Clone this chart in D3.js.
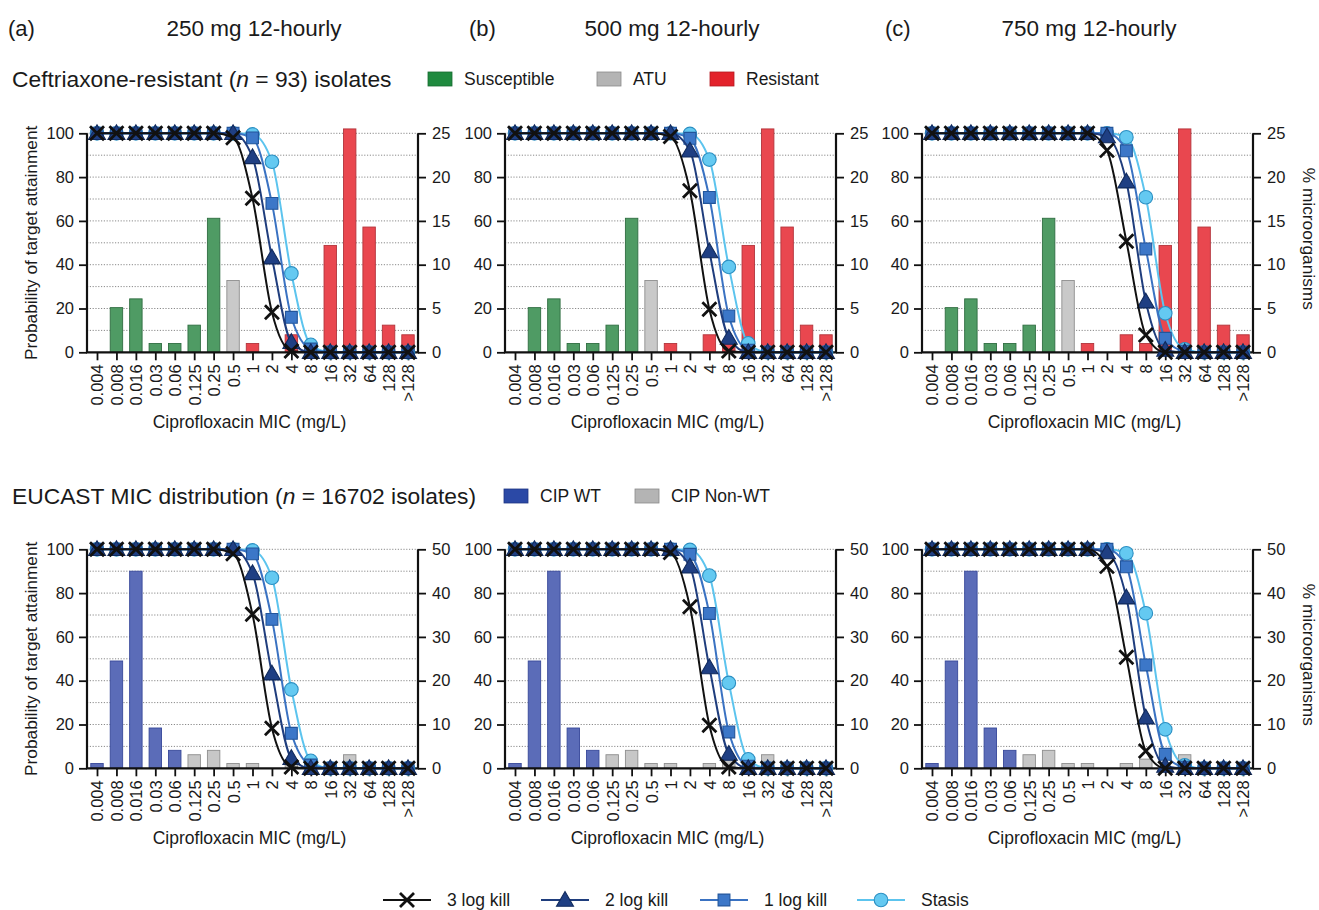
<!DOCTYPE html>
<html>
<head>
<meta charset="utf-8">
<script src="https://cdn.jsdelivr.net/npm/d3@7"></script>
<style>
  body { margin: 0; background: #ffffff; }
  svg { display: block; }
  text { font-family: "Liberation Sans", Arial, Helvetica, sans-serif; fill: #1a1a1a; }
</style>
</head>
<body>
<svg id="chart" width="1319" height="910"></svg>
<script>
// ---- data -------------------------------------------------------------
const categories = ["0.004", "0.008", "0.016", "0.03", "0.06", "0.125", "0.25", "0.5",
                    "1", "2", "4", "8", "16", "32", "64", "128", ">128"];

const panelLetters = ["(a)", "(b)", "(c)"];
const doseLabels = ["250 mg 12-hourly", "500 mg 12-hourly", "750 mg 12-hourly"];
const seriesNames = ["3 log kill", "2 log kill", "1 log kill", "Stasis"];

// probability of target attainment (%) per MIC, one array per dose and target
const kill3_250  = [100, 100, 100, 100, 100, 100, 100, 98,  70.3, 18.3, 0.6,  0,    0,    0,   0, 0, 0];
const kill2_250  = [100, 100, 100, 100, 100, 100, 100, 100, 89,   43.2, 4.6,  0,    0,    0,   0, 0, 0];
const kill1_250  = [100, 100, 100, 100, 100, 100, 100, 100, 97.9, 68,   16,   1.5,  0,    0,   0, 0, 0];
const stasis_250 = [100, 100, 100, 100, 100, 100, 100, 100, 99.5, 87,   36,   3.4,  0,    0,   0, 0, 0];

const kill3_500  = [100, 100, 100, 100, 100, 100, 100, 100, 98.5, 73.8, 19.7, 0.6,  0,    0,   0, 0, 0];
const kill2_500  = [100, 100, 100, 100, 100, 100, 100, 100, 100,  92,   46,   6.5,  0,    0,   0, 0, 0];
const kill1_500  = [100, 100, 100, 100, 100, 100, 100, 100, 100,  97.7, 70.7, 16.6, 1,    0,   0, 0, 0];
const stasis_500 = [100, 100, 100, 100, 100, 100, 100, 100, 100,  99.7, 88,   39,   4.1,  0,   0, 0, 0];

const kill3_750  = [100, 100, 100, 100, 100, 100, 100, 100, 100,  92.2, 50.7, 7.9,  0,    0,   0, 0, 0];
const kill2_750  = [100, 100, 100, 100, 100, 100, 100, 100, 100,  98.5, 77.9, 23.1, 1,    0,   0, 0, 0];
const kill1_750  = [100, 100, 100, 100, 100, 100, 100, 100, 100,  100,  92,   47.2, 6.4,  0.5, 0, 0, 0];
const stasis_750 = [100, 100, 100, 100, 100, 100, 100, 100, 100,  100,  98.2, 70.8, 17.8, 1.4, 0, 0, 0];

// % of isolates per MIC
const resistantPct   = [0, 5.1, 6.1, 1.0, 1.0, 3.1, 15.3, 8.2, 1.0, 0, 2.0, 1.0, 12.2, 25.5, 14.3, 3.1, 2.0];
const resistantClass = ["S", "S", "S", "S", "S", "S", "S", "ATU",
                        "R", "R", "R", "R", "R", "R", "R", "R", "R"];
const eucastPct   = [1.1, 24.5, 45.0, 9.2, 4.1, 3.1, 4.1, 1.1, 1.1, 0, 1.1, 2.1, 0, 3.1, 0, 0, 0];
const eucastClass = ["WT", "WT", "WT", "WT", "WT", "NWT", "NWT", "NWT",
                     "NWT", "NWT", "NWT", "NWT", "NWT", "NWT", "NWT", "NWT", "NWT"];

const leftTicks = [0, 20, 40, 60, 80, 100];
const rightTicksTop = [0, 5, 10, 15, 20, 25];
const rightTicksBottom = [0, 10, 20, 30, 40, 50];

const ptaByDose = [
  [kill3_250, kill2_250, kill1_250, stasis_250],
  [kill3_500, kill2_500, kill1_500, stasis_500],
  [kill3_750, kill2_750, kill1_750, stasis_750]
];

// ---- styles ---------------------------------------------------------------
const barStyle = {
  S:   { fill: "#4f9b64", stroke: "#2f6d41", swatch: "#1f8a3f", swatchStroke: "#186a31", label: "Susceptible" },
  ATU: { fill: "#c9c9c9", stroke: "#8e8e8e", swatch: "#b4b4b4", swatchStroke: "#8a8a8a", label: "ATU" },
  R:   { fill: "#e9474f", stroke: "#b3343b", swatch: "#e3222b", swatchStroke: "#b51a22", label: "Resistant" },
  WT:  { fill: "#5b6cb8", stroke: "#37489a", swatch: "#2b49a6", swatchStroke: "#1f3683", label: "CIP WT" },
  NWT: { fill: "#c7c7c7", stroke: "#8e8e8e", swatch: "#b4b4b4", swatchStroke: "#8a8a8a", label: "CIP Non-WT" }
};
const lineStyle = [
  { line: "#111111", marker: "times",    fill: "none",    stroke: "#111111" },
  { line: "#1f3d7d", marker: "triangle", fill: "#1f3f83", stroke: "#112a5c" },
  { line: "#3a72c2", marker: "square",   fill: "#3c77c8", stroke: "#22559b" },
  { line: "#5cc4ee", marker: "circle",   fill: "#64c9f1", stroke: "#2b8fc2" }
];

const svg = d3.select("#chart");

function drawMarker(g, kind, cx, cy, st) {
  if (kind === "times") {
    const r = 7;
    g.append("path")
      .attr("d", `M${cx - r},${cy - r}L${cx + r},${cy + r}M${cx - r},${cy + r}L${cx + r},${cy - r}`)
      .attr("stroke", st.stroke).attr("stroke-width", 2.8).attr("fill", "none");
    return;
  }
  const type = kind === "triangle" ? d3.symbolTriangle : kind === "square" ? d3.symbolSquare : d3.symbolCircle;
  const size = kind === "triangle" ? 125 : kind === "square" ? 140 : 145;
  const dy = kind === "triangle" ? 1.3 : 0;
  g.append("path")
    .attr("d", d3.symbol().type(type).size(size)())
    .attr("transform", `translate(${cx},${cy + dy})`)
    .attr("fill", st.fill).attr("stroke", st.stroke).attr("stroke-width", 1.1);
}

// ---- one panel -------------------------------------------------------------
const PW = 331, PH = 219;
const panelLeft = [87, 505, 922];

function drawPanel(col, yTop, barVals, barCls, rightMax, rightTicks) {
  const x0 = panelLeft[col], x1 = x0 + PW, yBot = yTop + PH;
  const g = svg.append("g");

  const x = d3.scalePoint().domain(categories).range([x0 + 10, x1 - 10]);
  const yL = d3.scaleLinear().domain([0, 100]).range([yBot, yTop]);
  const yR = d3.scaleLinear().domain([0, rightMax]).range([yBot, yTop]);
  const bw = x.step() * 0.64;

  // dotted gridlines
  g.append("g").selectAll("line").data(d3.range(10, 101, 10)).join("line")
    .attr("x1", x0).attr("x2", x1)
    .attr("y1", d => yL(d)).attr("y2", d => yL(d))
    .attr("stroke", "#8a8a8a").attr("stroke-width", 1).attr("stroke-dasharray", "1.2,1.6");

  // isolate distribution bars
  g.append("g").selectAll("rect")
    .data(categories.map((c, i) => ({ c, v: barVals[i], k: barCls[i] })).filter(d => d.v > 0))
    .join("rect")
    .attr("x", d => x(d.c) - bw / 2)
    .attr("y", d => yR(d.v))
    .attr("width", bw)
    .attr("height", d => yBot - yR(d.v))
    .attr("fill", d => barStyle[d.k].fill)
    .attr("stroke", d => barStyle[d.k].stroke)
    .attr("stroke-width", 0.9);

  // axes
  const styleAxis = a => {
    a.select(".domain").remove();
    a.selectAll(".tick line").attr("stroke", "#111").attr("stroke-width", 1.8);
    a.selectAll(".tick text").style("font-size", "16.5px").attr("fill", "#1a1a1a");
  };
  g.append("g").attr("transform", `translate(${x0},0)`)
    .call(d3.axisLeft(yL).tickValues(leftTicks).tickSize(8).tickPadding(5).tickSizeOuter(0))
    .call(styleAxis);
  g.append("g").attr("transform", `translate(${x1},0)`)
    .call(d3.axisRight(yR).tickValues(rightTicks).tickSize(8).tickPadding(6).tickSizeOuter(0))
    .call(styleAxis);
  const xa = g.append("g").attr("transform", `translate(0,${yBot})`)
    .call(d3.axisBottom(x).tickSize(8).tickSizeOuter(0))
    .call(styleAxis);
  xa.selectAll(".tick text")
    .attr("transform", "rotate(-90)")
    .attr("x", -12).attr("y", 0).attr("dy", "0.36em")
    .style("text-anchor", "end").style("font-size", "16.5px");

  g.append("line").attr("x1", x0).attr("x2", x0).attr("y1", yTop).attr("y2", yBot)
    .attr("stroke", "#111").attr("stroke-width", 2.2);
  g.append("line").attr("x1", x1).attr("x2", x1).attr("y1", yTop).attr("y2", yBot)
    .attr("stroke", "#111").attr("stroke-width", 2.2);
  g.append("line").attr("x1", x0 - 1).attr("x2", x1 + 1).attr("y1", yBot).attr("y2", yBot)
    .attr("stroke", "#111").attr("stroke-width", 2.2);

  // PTA curves, stasis first so the kill curves sit on top
  const line = d3.line().x((d, i) => x(categories[i])).y(d => yL(d)).curve(d3.curveMonotoneX);
  const series = ptaByDose[col];
  for (let s = series.length - 1; s >= 0; s--) {
    const st = lineStyle[s];
    const sg = g.append("g");
    sg.append("path").datum(series[s]).attr("d", line)
      .attr("fill", "none").attr("stroke", st.line).attr("stroke-width", 2);
    series[s].forEach((v, i) => drawMarker(sg, st.marker, x(categories[i]), yL(v), st));
  }

  // axis titles
  g.append("text")
    .attr("x", x0 + PW / 2 - 3).attr("y", yBot + 76)
    .attr("text-anchor", "middle").style("font-size", "17.5px")
    .text("Ciprofloxacin MIC (mg/L)");
  if (col === 0) {
    g.append("text")
      .attr("transform", `translate(31,${yTop + PH / 2}) rotate(-90)`)
      .attr("dy", "0.35em").attr("text-anchor", "middle").style("font-size", "17.3px")
      .text("Probability of target attainment");
  }
  if (col === 2) {
    g.append("text")
      .attr("transform", `translate(1309,${yTop + PH / 2 - 4}) rotate(90)`)
      .attr("dy", "0.35em").attr("text-anchor", "middle").style("font-size", "17.3px")
      .text("% microorganisms");
  }
}

// ---- headers ---------------------------------------------------------------
const letterX = [8, 469, 885];
panelLetters.forEach((t, i) => {
  svg.append("text").attr("x", letterX[i]).attr("y", 28).attr("dy", "0.35em")
    .style("font-size", "22px").text(t);
  svg.append("text").attr("x", panelLeft[i] + 167).attr("y", 28).attr("dy", "0.35em")
    .attr("text-anchor", "middle").style("font-size", "22.5px").text(doseLabels[i]);
});

function rowTitle(y, parts) {
  const t = svg.append("text").attr("x", 12).attr("y", y).attr("dy", "0.35em").style("font-size", "22.8px");
  parts.forEach(p => t.append("tspan").style("font-style", p.italic ? "italic" : "normal").text(p.text));
}
rowTitle(79, [{ text: "Ceftriaxone-resistant (" }, { text: "n", italic: true }, { text: " = 93) isolates" }]);
rowTitle(496, [{ text: "EUCAST MIC distribution (" }, { text: "n", italic: true }, { text: " = 16702 isolates)" }]);

function barLegend(y, keys, xs) {
  keys.forEach((k, i) => {
    const st = barStyle[k];
    svg.append("rect").attr("x", xs[i]).attr("y", y - 7).attr("width", 24).attr("height", 14)
      .attr("fill", st.swatch).attr("stroke", st.swatchStroke).attr("stroke-width", 0.8);
    svg.append("text").attr("x", xs[i] + 36).attr("y", y).attr("dy", "0.35em")
      .style("font-size", "17.5px").text(st.label);
  });
}
barLegend(79, ["S", "ATU", "R"], [428, 597, 710]);
barLegend(496, ["WT", "NWT"], [504, 635]);

// ---- panels ----------------------------------------------------------------
[0, 1, 2].forEach(c => drawPanel(c, 133.3, resistantPct, resistantClass, 25, rightTicksTop));
[0, 1, 2].forEach(c => drawPanel(c, 549.3, eucastPct, eucastClass, 50, rightTicksBottom));

// ---- curve legend ----------------------------------------------------------
const legX = [383, 541, 700, 857];
seriesNames.forEach((name, i) => {
  const st = lineStyle[i];
  const g = svg.append("g");
  g.append("line").attr("x1", legX[i]).attr("x2", legX[i] + 48).attr("y1", 900).attr("y2", 900)
    .attr("stroke", st.line).attr("stroke-width", 2);
  drawMarker(g, st.marker, legX[i] + 24, 900, st);
  g.append("text").attr("x", legX[i] + 64).attr("y", 900).attr("dy", "0.35em")
    .style("font-size", "17.5px").text(name);
});
</script>
</body>
</html>
